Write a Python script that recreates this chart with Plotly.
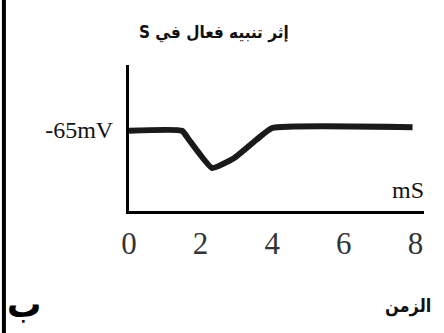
import plotly.graph_objects as go

# membrane potential after an effective stimulus
time_ms = [0, 1.48, 1.68, 2.32, 2.94, 3.55, 4.0, 7.92]
potential_mv = [-65.2, -65.2, -67.5, -74.5, -72.0, -67.5, -64.5, -64.3]

x_ticks = [0, 2, 4, 6, 8]
y_ticks = [-65]
y_tick_text = ["-65mV"]

title_text = "إثر تنبيه فعال في S"
x_unit = "mS"
x_name = "الزمن"
panel_tag = "ب"

serif = "Liberation Serif, Times New Roman, serif"
arabic = "DejaVu Sans Condensed, DejaVu Sans, sans-serif"

fig = go.Figure()

fig.add_trace(go.Scatter(
    x=time_ms,
    y=potential_mv,
    mode="lines",
    line=dict(color="#1a1a1a", width=6, shape="spline", smoothing=0.4),
    showlegend=False,
    hoverinfo="skip",
))

fig.update_xaxes(
    range=[0, 8.24],
    showline=True, linewidth=3, linecolor="black",
    showgrid=False, zeroline=False,
    tickvals=x_ticks,
    ticks="",
    ticklabelstandoff=3,
    tickfont=dict(family=serif, size=31, color="#333"),
)
fig.update_yaxes(
    range=[-85.25, -48.75],
    showline=True, linewidth=3, linecolor="black",
    showgrid=False, zeroline=False,
    tickvals=y_ticks,
    ticktext=y_tick_text,
    ticks="",
    ticklabelstandoff=8,
    tickfont=dict(family=serif, size=24, color="#111"),
)

# RTL embedding so the Latin "S" lands at the left end, as in the source
# (the browser then starts the run at the anchor, so x is its left edge)
fig.add_annotation(
    text="<b>\u202b" + title_text + "\u202c</b>", xref="paper", yref="paper",
    x=0.027, y=1.31, showarrow=False,
    font=dict(family=arabic, size=17, color="#111"),
)
fig.add_annotation(
    text=x_unit, xref="x", yref="y", x=7.8, y=-80.0, showarrow=False,
    font=dict(family=serif, size=24, color="#111"),
)
fig.add_annotation(
    text=f"<b>{x_name}</b>", xref="paper", yref="paper",
    x=1.03, y=-0.74, xanchor="right", showarrow=False,
    font=dict(family=arabic, size=18, color="#111"),
)
fig.add_annotation(
    text=f"<b>{panel_tag}</b>", xref="paper", yref="paper",
    x=-0.42, y=-0.80, xanchor="left", showarrow=False,
    font=dict(family=arabic, size=38, color="#000"),
)

# thick black frame edge on the left of the scan
fig.add_shape(
    type="line", xref="paper", yref="paper",
    x0=-0.424, x1=-0.424, y0=-1.0, y1=1.5,
    line=dict(color="black", width=4),
)

fig.update_layout(
    width=444, height=333,
    margin=dict(l=129, r=20, t=65, b=122),
    plot_bgcolor="white", paper_bgcolor="white",
)

# drop the default page margin so the figure sits at the window's corner
fig.write_html(
    "out.html",
    config={"displayModeBar": False},
    post_script="document.body.style.margin='0';",
)
